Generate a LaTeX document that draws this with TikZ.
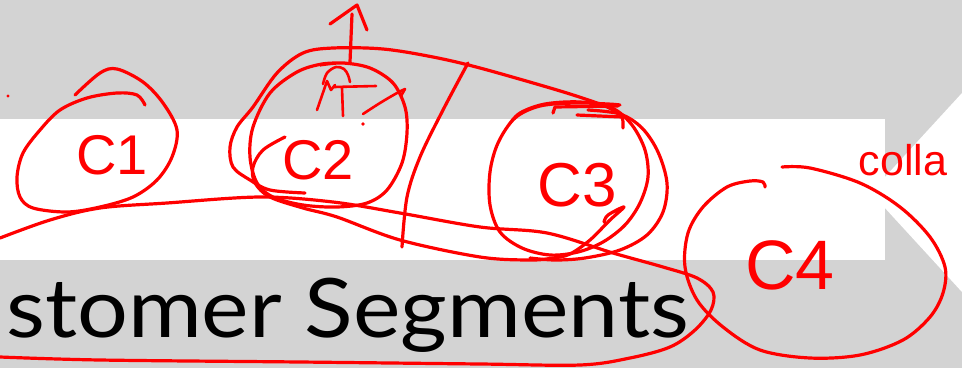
\documentclass[tikz,border=0pt]{standalone}
\usepackage{fontspec}
\setmainfont{Lato}
\newfontfamily\inkfont{Liberation Sans}
\definecolor{slidegray}{RGB}{211,211,211}
\definecolor{inkred}{RGB}{255,0,0}
\begin{document}
\begin{tikzpicture}[x=1pt,y=-1pt,
  ink/.style={draw=inkred, line width=3.2pt, line cap=round, line join=round},
  inktext/.style={text=inkred, inner sep=0pt, font=\inkfont},
  smoothpath/.style={smooth, tension=0.55}]
\useasboundingbox (0,0) rectangle (962,368);
% slide background
\fill[slidegray] (0,0) rectangle (962,368);
\fill[white] (0,119) rectangle (885,260);
\fill[white] (884,178) -- (962,93) -- (962,292) -- (884,207) -- cycle;
\node[anchor=base west, inner sep=0pt, font=\fontsize{82}{90}\selectfont] (title) at (6,337) {\scalebox{1.095}[1]{stomer Segments}};

% dot
\fill[inkred] (8,96) circle (1.6);

% C1
\draw[ink] plot[smoothpath] coordinates {(75,95) (100,73) (117,69) (143,82) (163,103) (177,130) (172,157) (157,180) (133,197) (100,207) (67,212) (33,208) (20,197) (17,177) (23,153) (40,130) (60,110) (87,98) (117,93) (137,95) (145,105)};
\node[inktext, font=\inkfont\fontsize{56}{60}\selectfont] (c1) at (112,155) {C1};

% C2 inner circle
\draw[ink] plot[smoothpath] coordinates {(320,65) (343,63) (370,68) (393,83) (405,107) (407,133) (402,163) (387,190) (367,203) (337,207) (303,205) (273,197) (257,183) (250,157) (253,127) (270,93) (297,72) (322,64) (345,63)};
\node[inktext, font=\inkfont\fontsize{56}{60}\selectfont] (c2) at (318,160) {C2};

% long enclosing loop (C2 + C3 top)
\draw[ink] plot[smoothpath] coordinates {(623,128) (622,117) (613,110) (597,103) (557,90) (480,68) (433,57) (383,49) (333,48) (303,53) (277,73) (253,107) (237,127) (230,147) (233,167) (250,180) (270,190) (305,193)};

% divider
\draw[ink] plot[smoothpath] coordinates {(468,63) (443,110) (420,157) (407,197) (402,247)};

% arrow up
\coordinate (arrtop) at (357,5);
\coordinate (arrbase) at (350,62);
\draw[ink] (arrbase) -- (352,14);
\draw[ink] (330,24) -- (arrtop) -- (367,30);

% doodle above C2
\draw[ink, line width=2.6pt] plot[smoothpath] coordinates {(323,84) (327,73) (336,67) (344,69) (348,75) (350,82)};
\draw[ink, line width=2.6pt] (317,110) -- (327,81) -- (331,90) -- (335,85);
\draw[ink, line width=2.6pt] (334,87) -- (376,86);
\draw[ink, line width=2.6pt] (342,88) -- (343,116);
\draw[ink, line width=2.6pt] plot[smoothpath] coordinates {(363,114) (380,103) (397,93) (405,89)} -- (401,96);
\fill[inkred] (363,124) circle (1.8);

% C3 inner loop
\draw[ink] plot[smoothpath] coordinates {(508,126) (520,113) (545,104) (580,102) (612,108) (632,125) (645,150) (648,177) (640,203) (625,225) (603,242) (578,252) (550,255) (522,248) (500,232) (490,205) (490,172) (498,143) (515,118) (540,106) (575,103) (608,104) (620,105)};
% C3 outer loop
\draw[ink] plot[smoothpath] coordinates {(588,110) (620,114) (642,128) (658,152) (667,183) (663,212) (647,235) (620,250) (585,258) (555,260) (530,258)};
\draw[ink] (553,113) -- (555,107) -- (618,106);
\draw[ink] (577,115) -- (622,117);
\node[inktext, font=\inkfont\fontsize{62}{66}\selectfont] (c3) at (577,185) {C3};

% big loop around the title
\draw[ink] plot[smoothpath] coordinates {(0,238) (50,220) (100,208) (167,203) (260,197) (333,202) (400,213) (480,227) (547,233) (613,253) (663,267) (697,278) (713,292) (711,310) (695,330) (670,347) (630,358) (580,365) (480,364) (300,362) (100,360) (0,357)};

% lower stroke from C2 to C3
\draw[ink] plot[smoothpath] coordinates {(285,137) (263,150) (253,167) (255,183) (270,197) (303,208) (337,217) (400,240) (480,257) (530,260) (553,258) (570,254) (590,240) (610,220) (624,207) (608,215) (604,222)};

% C4
\draw[ink] plot[smoothpath] coordinates {(782,167) (810,168) (860,183) (900,207) (930,237) (945,267) (943,293) (930,317) (903,340) (860,355) (810,358) (760,350) (723,327) (697,300) (685,267) (688,233) (703,207) (727,187) (750,181) (763,182) (765,187)};
\node[inktext, font=\inkfont\fontsize{70}{74}\selectfont] (c4) at (790,265) {C4};

\node[inktext, font=\inkfont\fontsize{43}{46}\selectfont] (colla) at (903,160) {colla};
\end{tikzpicture}
\end{document}
